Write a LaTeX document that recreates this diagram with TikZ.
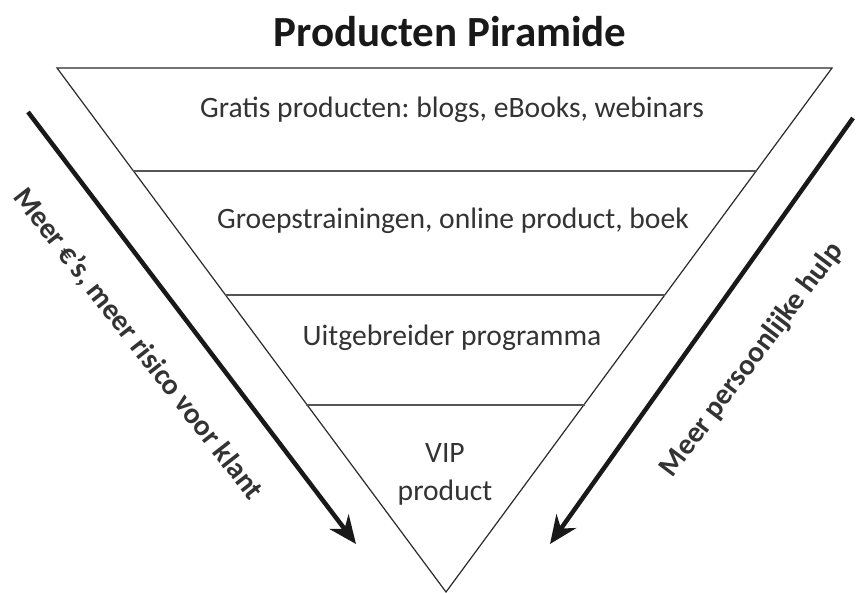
\documentclass[tikz,border=0pt]{standalone}
\usepackage{fontspec}
\setmainfont{Carlito}
\usetikzlibrary{arrows.meta}
\frenchspacing
\definecolor{txt}{HTML}{333333}
\definecolor{edge}{HTML}{2A2A2A}
\definecolor{divider}{HTML}{555555}
\tikzset{
  layertext/.style={font=\fontsize{29.6}{38}\selectfont, text=txt, align=center, inner sep=0pt},
  sidelabel/.style={font=\bfseries\fontsize{29.5}{34}\selectfont, text=txt, inner sep=0pt},
  bigarrow/.style={line width=4.5pt, draw=black!90, -{Stealth[length=28pt,width=24pt,inset=9pt]}},
  divline/.style={line width=1.8pt, draw=divider},
  triedge/.style={line width=1.2pt, draw=edge, line join=miter},
}
\begin{document}
\begin{tikzpicture}[x=1pt,y=-1pt]
\useasboundingbox (0,0) rectangle (856,593);
\fill[white] (0,0) rectangle (856,593);
% title
\node[font=\bfseries\fontsize{43}{50}\selectfont, text=black!90, inner sep=0pt] (title) at (450,32) {Producten Piramide};
% triangle
\coordinate (tl) at (57,68);
\coordinate (tr) at (832,68);
\coordinate (apex) at (446,592);
\draw[triedge] (tl) -- (tr) -- (apex) -- cycle;
% dividers
\coordinate (d1l) at (133,171); \coordinate (d1r) at (757,171);
\coordinate (d2l) at (225,295); \coordinate (d2r) at (665,295);
\coordinate (d3l) at (306,405); \coordinate (d3r) at (585,405);
\draw[divline] (d1l) -- (d1r);
\draw[divline] (d2l) -- (d2r);
\draw[divline] (d3l) -- (d3r);
% layer texts
\node[layertext] (l1) at (452,110) {Gratis producten: blogs, eBooks, webinars};
\node[layertext] (l2) at (453,221) {Groepstrainingen, online product, boek};
\node[layertext] (l3) at (452,338) {Uitgebreider programma};
\node[layertext] (l4) at (445,474) {VIP\\product};
% arrows
\coordinate (a1s) at (28,112);
\coordinate (a1e) at (356,544);
\coordinate (a2s) at (853,118);
\coordinate (a2e) at (550,544);
\draw[bigarrow] (a1s) -- (a1e);
\draw[bigarrow] (a2s) -- (a2e);
% side labels
\node[sidelabel, rotate=-52] (left) at (138,344) {Meer €’s, meer risico voor klant};
\node[sidelabel, rotate=53] (right) at (752,360) {Meer persoonlijke hulp};
\end{tikzpicture}
\end{document}
